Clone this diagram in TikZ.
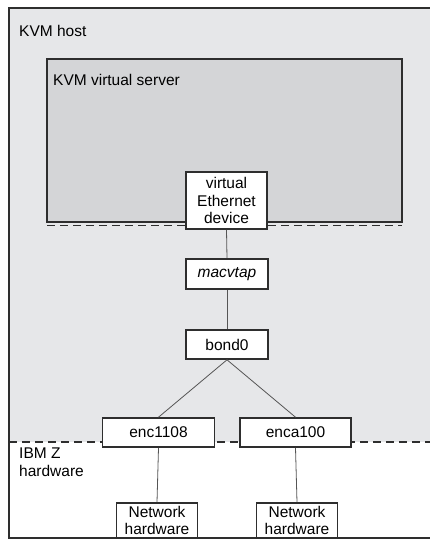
\documentclass[tikz,border=0pt]{standalone}
\usepackage{fontspec}
\setmainfont{Liberation Sans}
\definecolor{hostgray}{HTML}{E6E7E9}
\definecolor{servergray}{HTML}{D4D5D7}
\definecolor{boxline}{HTML}{2E2E2E}
\definecolor{linkgray}{HTML}{555555}

\begin{document}
\begin{tikzpicture}[x=1pt,y=-1pt,
	box/.style={draw=boxline,line width=1.6pt,fill=white,align=center,inner sep=0pt},
	link/.style={draw=linkgray,line width=0.8pt},
	sepline/.style={draw=boxline,line width=1.8pt,dash pattern=on 8pt off 5pt},
	font=\fontsize{15.5}{17.5}\selectfont]
	\clip (0,0) rectangle (430,540);
	
	% host and server areas
	\fill[hostgray] (9,8) rectangle (445,442);
	\draw[sepline] (9,442) -- (445,442);
	\draw[boxline,line width=1.8pt,fill=servergray] (47,59) rectangle (402,222);
	\draw[sepline] (47,225.5) -- (402,225.5);
	
	\node (host) [anchor=base west,inner sep=0pt] at (19,37) {KVM host};
	\node (server) [anchor=base west,inner sep=0pt] at (53,86) {KVM virtual server};
	\node (ibmz) [anchor=north west,inner sep=0pt,align=left] at (19,448) {IBM Z\\hardware};
	
	% devices
	\node (ved) [box,minimum width=81pt,minimum height=57pt] at (226.5,200.5) {virtual\\Ethernet\\device};
	\node (mac) [box,minimum width=82pt,minimum height=30pt] at (227,274) {\itshape macvtap};
	\node (bond) [box,minimum width=82pt,minimum height=29pt] at (227,344.5) {bond0};
	\node (enc1) [box,minimum width=112pt,minimum height=29pt] at (158.5,432.5) {enc1108};
	\node (enc2) [box,minimum width=111pt,minimum height=29pt] at (295.5,432.5) {enca100};
	\node (hw1) [box,minimum width=81pt,minimum height=35pt] at (157,520.5) {Network\\hardware};
	\node (hw2) [box,minimum width=81pt,minimum height=35pt] at (297,520.5) {Network\\hardware};
	
	\draw[link] (ved.south) -- (mac.north);
	\draw[link] (mac.south) -- (bond.north);
	\draw[link] (bond.south) -- (enc1.north);
	\draw[link] (bond.south) -- (enc2.north);
	\draw[link] (enc1.south) -- (hw1.north);
	\draw[link] (enc2.south) -- (hw2.north);
	
	% outer frame
	\draw[boxline,line width=1.8pt] (9,8) rectangle (445,538);
\end{tikzpicture}
\end{document}
